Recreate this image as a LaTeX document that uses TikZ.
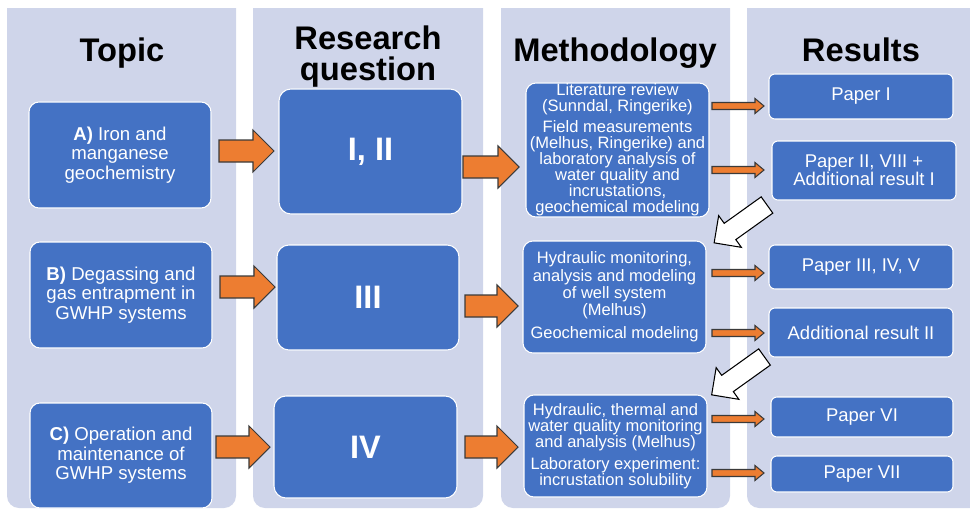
\documentclass[tikz,border=0pt]{standalone}
\usepackage{xcolor}
\usepackage{fontspec}
\setmainfont{Liberation Sans}
\usepackage{tikz}
\usetikzlibrary{calc}
\definecolor{columnLav}{HTML}{CFD5EA}
\definecolor{boxBlue}{HTML}{4472C4}
\definecolor{arrowOrange}{HTML}{ED7D31}
\definecolor{edgeGray}{HTML}{3A3A3A}

\begin{document}
\begin{tikzpicture}[x=0.02cm,y=-0.02cm,
  box/.style={fill=boxBlue,draw=white,line width=0.6pt,rounded corners=0.2cm,
    inner sep=0pt,text=white,align=center},
  dims/.style 2 args={minimum width=#1*0.02cm,minimum height=#2*0.02cm},
  head/.style={font=\fontsize{18.6}{18.1}\selectfont\bfseries,inner sep=0pt,align=center},
  bigarrow/.style={fill=arrowOrange,draw=edgeGray,line width=0.6pt},
  whitearrow/.style={fill=white,draw=black,line width=0.6pt}]
\useasboundingbox (0,0) rectangle (970,510);
% sutunlar
\begin{scope}
\clip (0,9) rectangle (970,510);
\foreach \xa/\xb in {7/236,253/483,501/730,747/995}
  \fill[columnLav,rounded corners=0.24cm] (\xa,-20) rectangle (\xb,508);
\end{scope}
% basliklar
\node[head,anchor=base] (hTopic) at (122,62) {Topic};
\node[head,anchor=north] (hQuestion) at (368,25) {Research\\question};
\node[head,anchor=base] (hMethod) at (615,62) {Methodology};
\node[head,anchor=base] (hResult) at (861,62) {Results};
% konu kutulari
\begin{scope}[every node/.style={box,font=\fontsize{10.6}{11}\selectfont}]
\node[dims={182}{106}] (topicA) at (120,155) {\textbf{A)} Iron and\\manganese\\geochemistry};
\node[dims={182}{106}] (topicB) at (121,295) {\textbf{B)} Degassing and\\gas entrapment in\\GWHP systems};
\node[dims={182}{105}] (topicC) at (121,455.5) {\textbf{C)} Operation and\\maintenance of\\GWHP systems};
\end{scope}
% arastirma sorulari
\begin{scope}[every node/.style={box,rounded corners=0.24cm,font=\fontsize{18.5}{20}\selectfont\bfseries}]
\node[dims={183}{125}] (questA) at (370.5,151.5) {I, II};
\node[dims={182}{105}] (questB) at (368,297.5) {III};
\node[dims={183}{102}] (questC) at (365.5,447) {IV};
\end{scope}
% yontem
\node[box,dims={183}{134},font=\fontsize{9.4}{9.2}\selectfont] (methA) at (617.5,150)
  {Literature review\\(Sunndal, Ringerike)\\[2.3pt]Field measurements\\(Melhus, Ringerike) and\\laboratory analysis of\\water quality and\\incrustations,\\geochemical modeling};
\node[box,dims={183}{112},font=\fontsize{9.4}{9.9}\selectfont] (methB) at (614.5,297)
  {Hydraulic monitoring,\\analysis and modeling\\of well system\\(Melhus)\\[3.1pt]Geochemical modeling};
\node[box,dims={183}{102},font=\fontsize{9.4}{9.1}\selectfont] (methC) at (615.5,446)
  {Hydraulic, thermal and\\water quality monitoring\\and analysis (Melhus)\\[3.4pt]Laboratory experiment:\\incrustation solubility};
% sonuclar
\begin{scope}[every node/.style={box,rounded corners=0.12cm,font=\fontsize{10.5}{10.3}\selectfont}]
\node[dims={184}{45}] (resA) at (861,96.5) {Paper I};
\node[dims={184}{59}] (resB) at (864,170.5) {Paper II, VIII +\\Additional result I};
\node[dims={184}{44}] (resC) at (861,267) {Paper III, IV, V};
\node[dims={184}{49}] (resD) at (861,332.5) {Additional result II};
\node[dims={182}{40}] (resE) at (862,417) {Paper VI};
\node[dims={182}{36}] (resF) at (862,474) {Paper VII};
\end{scope}
% turuncu oklar
\foreach \xa/\xb/\yy in {219/274/151,220/275/287,216/270/447,463/519/167,465/518/306,465/518/447}
  \draw[bigarrow] (\xa,\yy-11) -- (\xb-21,\yy-11) -- (\xb-21,\yy-21) -- (\xb,\yy)
    -- (\xb-21,\yy+21) -- (\xb-21,\yy+11) -- (\xa,\yy+11) -- cycle;
\foreach \yy in {106,170,273,333,419,473}
  \draw[bigarrow] (712,\yy-3.5) -- (755,\yy-3.5) -- (755,\yy-7.5) -- (764,\yy)
    -- (755,\yy+7.5) -- (755,\yy+3.5) -- (712,\yy+3.5) -- cycle;
% beyaz oklar
\foreach \xx/\yy in {767/205,764.5/357}
  \draw[whitearrow,shift={(\xx,\yy)},rotate=215.6] (0,-10) -- (45.5,-10) -- (45.5,-19.5)
    -- (65,0) -- (45.5,19.5) -- (45.5,10) -- (0,10) -- cycle;
\end{tikzpicture}
\end{document}
